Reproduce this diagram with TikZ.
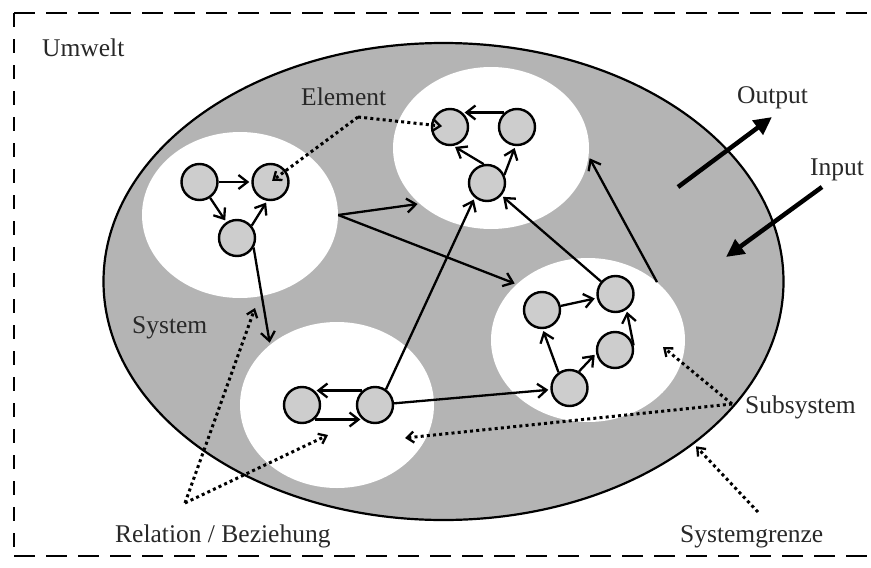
\documentclass[tikz,border=0pt]{standalone}
\usepackage{fontspec}
\setmainfont{Liberation Serif}
\usetikzlibrary{arrows.meta,shapes.geometric}

\definecolor{sysgrey}{RGB}{180,180,180}
\definecolor{elemgrey}{RGB}{205,205,205}
\definecolor{inkgrey}{RGB}{40,40,40}

\begin{document}
\begin{tikzpicture}[x=1pt,y=-1pt,
  lbl/.style={anchor=base west,inner sep=0pt,text=inkgrey,
    font=\fontsize{25.5}{30}\selectfont},
  subsys/.style={ellipse,fill=white,draw=none,inner sep=0pt},
  elem/.style={circle,draw,line width=2.4pt,fill=elemgrey,
    minimum size=36pt,inner sep=0pt},
  rel/.style={line width=2.3pt,shorten >=2pt,
    -{Straight Barb[length=9pt,width=14pt]}},
  ptr/.style={line width=3pt,dash pattern=on 3pt off 3.2pt,
    -{Straight Barb[length=7pt,width=11pt,line width=2.3pt]}},
  io/.style={line width=4.5pt,-{Triangle[length=18pt,width=17pt]}},
  frame/.style={line width=2.7pt},
]
\useasboundingbox (0,0) rectangle (871,568);

% surrounding environment (dashed frame, open on the right)
\draw[frame,dash pattern=on 21pt off 11pt] (14,13) -- (871,13);
\draw[frame,dash pattern=on 14pt off 12pt] (14,13) -- (14,556);
\draw[frame,dash pattern=on 21pt off 11pt] (14,556) -- (871,556);

% the system and its subsystems
\node[ellipse,draw,line width=2.2pt,fill=sysgrey,inner sep=0pt,
  minimum width=680pt,minimum height=477pt] (sys) at (443.5,281.5) {};
\node[subsys,minimum width=196pt,minimum height=166pt] (SL) at (240,215) {};
\node[subsys,minimum width=196pt,minimum height=162pt] (ST) at (491,148) {};
\node[subsys,minimum width=194pt,minimum height=164pt] (SR) at (588,340) {};
\node[subsys,minimum width=194pt,minimum height=166pt] (SB) at (337,405) {};

% elements
\node[elem] (L1) at (199.5,182) {};
\node[elem] (L2) at (270.5,182) {};
\node[elem] (L3) at (237,238) {};
\node[elem] (A) at (450,127) {};
\node[elem] (B) at (517,127) {};
\node[elem] (C) at (487,183) {};
\node[elem] (P) at (542,310) {};
\node[elem] (Q) at (615.5,294) {};
\node[elem] (R) at (615,350) {};
\node[elem] (S) at (569.5,388) {};
\node[elem] (X) at (302,405) {};
\node[elem] (Y) at (375,405) {};

% relations
\draw[rel] (L1) -- (L2);
\draw[rel] (L1) -- (L3);
\draw[rel] (L3.40) -- (L2.-100);
\draw[rel] (L3.-30) -- (SB.138);
\draw[rel] (SL.east) -- (ST.218);
\draw[rel] (SL.east) -- (SR.142);
\draw[rel] (B.131) -- (A.49);
\draw[rel] (C.100) -- (A.-80);
\draw[rel] (C.25) -- (B.-95);
\draw[rel] (Y.55) -- (C.230);
\draw[rel] (Q) -- (C);
\draw[rel] (SR.40) -- (ST.-5);
\draw[rel] (P) -- (Q);
\draw[rel] (S.125) -- (P.-88);
\draw[rel] (S.60) -- (R.190);
\draw[rel] (R.14) -- (Q.-55);
\draw[rel] (Y) -- (S);
\draw[rel] (Y.131) -- (X.49);
\draw[rel] (X.-49) -- (Y.-131);

% input and output
\coordinate (o1) at (678,187);
\coordinate (o2) at (772,117);
\draw[io] (o1) -- (o2);
\coordinate (i1) at (822,187);
\coordinate (i2) at (726,257);
\draw[io] (i1) -- (i2);

% labels
\node[lbl] (umwelt) at (42,56) {Umwelt};
\node[lbl] (element) at (301,105) {Element};
\node[lbl] (output) at (737,103) {Output};
\node[lbl] (input) at (810,175) {Input};
\node[lbl] (system) at (132,333) {System};
\node[lbl] (subsystem) at (745,413) {Subsystem};
\node[lbl] (grenze) at (680,542) {Systemgrenze};
\node[lbl] (relation) at (115,542) {Relation / Beziehung};

% dotted pointers from the labels
\coordinate (eJ) at (358,117);
\draw[ptr,shorten >=2pt] (eJ) -- (L2.center);
\draw[ptr,shorten >=8pt] (eJ) -- (A.center);
\coordinate (rJ) at (185,503);
\coordinate (rT1) at (255,308);
\coordinate (rT2) at (328,435);
\draw[ptr] (rJ) -- (rT1);
\draw[ptr] (rJ) -- (rT2);
\coordinate (sJ) at (732,404);
\coordinate (sT1) at (663,347);
\coordinate (sT2) at (405,438);
\draw[ptr] (sJ) -- (sT1);
\draw[ptr] (sJ) -- (sT2);
\coordinate (gJ) at (758,512);
\draw[ptr,shorten >=3pt] (gJ) -- (sys.-33);
\end{tikzpicture}
\end{document}
